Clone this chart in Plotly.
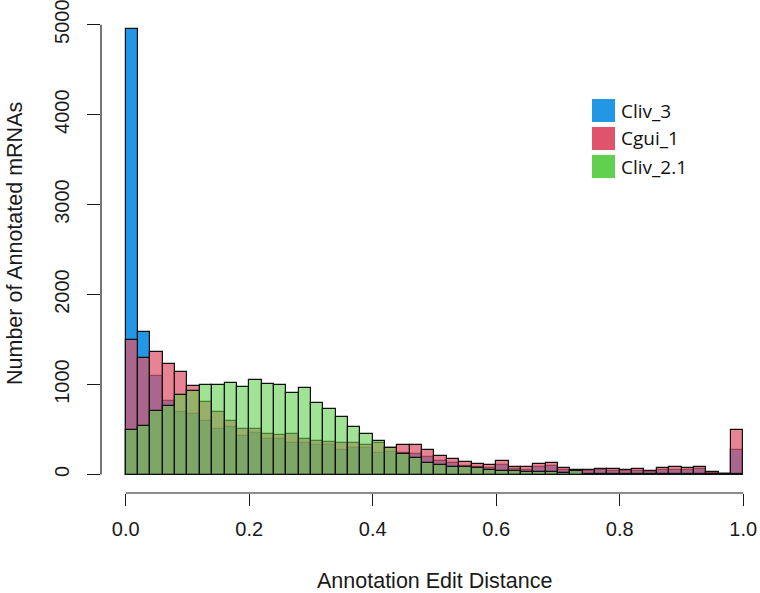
import numpy as np
import plotly.graph_objects as go

# ---- data: counts per bin (50 bins of width 0.02 on [0, 1]) ----
bin_width = 0.02
bin_left = [round(i * bin_width, 2) for i in range(50)]

cliv_3 = [4950, 1580, 1100, 815, 700, 670, 590, 510, 530, 425,
          465, 390, 390, 355, 355, 330, 325, 270, 295, 290,
          240, 250, 240, 230, 190, 150, 125, 100, 85, 75,
          110, 60, 55, 85, 95, 50, 40, 40, 45, 42,
          35, 42, 32, 48, 55, 48, 62, 20, 4, 270]

cgui_1 = [1490, 1300, 1360, 1230, 1140, 980, 805, 690, 590, 510,
          505, 450, 440, 445, 390, 375, 360, 345, 355, 325,
          345, 300, 333, 333, 270, 203, 170, 144, 114, 102,
          152, 81, 78, 118, 133, 67, 55, 55, 62, 58,
          48, 58, 44, 67, 78, 67, 89, 29, 5, 500]

cliv_2_1 = [490, 535, 710, 762, 885, 930, 1000, 990, 1022, 973,
            1055, 1007, 992, 911, 967, 800, 733, 640, 525, 448,
            370, 296, 233, 178, 129, 111, 81, 81, 67, 48,
            37, 37, 33, 33, 26, 15, 35, 10, 6, 5,
            4, 4, 3, 3, 3, 2, 2, 2, 1, 10]

series_names = ["Cliv_3", "Cgui_1", "Cliv_2.1"]
x_ticks = [0.0, 0.2, 0.4, 0.6, 0.8, 1.0]
x_ticklabels = ["0.0", "0.2", "0.4", "0.6", "0.8", "1.0"]
y_ticks = [0, 1000, 2000, 3000, 4000, 5000]
y_ticklabels = ["0", "1000", "2000", "3000", "4000", "5000"]

# ---- styling ----
W, H = 760, 593
ML, MR, MT, MB = 101, 0, 0, 100
fills = ["rgba(34,151,230,1)", "rgba(223,83,107,0.72)", "rgba(97,208,79,0.6)"]
legend_colors = ["#2297E6", "#DF536B", "#61D04F"]
FAMILY = "Liberation Sans, Arial, sans-serif"
axis_font = dict(family=FAMILY, size=20, color="#1a1a1a")
title_font = dict(family=FAMILY, size=21.5, color="#1a1a1a")

centers = [b + bin_width / 2 for b in bin_left]

fig = go.Figure()
for name, vals, col in zip(series_names, [cliv_3, cgui_1, cliv_2_1], fills):
    fig.add_trace(go.Bar(
        x=centers, y=vals, width=bin_width, name=name,
        marker=dict(color=col, line=dict(color="#111111", width=1.2)),
        showlegend=False,
    ))

fig.update_layout(
    width=W, height=H,
    margin=dict(l=ML, r=MR, t=MT, b=MB, pad=0),
    paper_bgcolor="white", plot_bgcolor="white",
    barmode="overlay", bargap=0,
    font=axis_font,
    showlegend=False,
)

fig.update_xaxes(
    range=[-0.04, 1.0271], tickvals=x_ticks, ticktext=x_ticklabels,
    ticks="outside", ticklen=12, tickwidth=1.2, tickcolor="#1a1a1a",
    showline=False, showgrid=False, zeroline=False,
    ticklabelstandoff=6, tickfont=axis_font, ticklabeloverflow="allow",
)
fig.update_yaxes(
    range=[-205.6, 5274.6], tickvals=y_ticks, ticktext=y_ticklabels,
    ticks="outside", ticklen=13, tickwidth=1.2, tickcolor="#1a1a1a",
    showline=False, showgrid=False, zeroline=False,
    tickangle=-90, ticklabelstandoff=10, tickfont=axis_font,
    ticklabeloverflow="allow",
)

# R-style axis lines spanning only from first to last tick
fig.add_shape(type="line", xref="x", yref="paper", x0=x_ticks[0], x1=x_ticks[-1],
              y0=0, y1=0, line=dict(color="#1a1a1a", width=1.2))
fig.add_shape(type="line", xref="paper", yref="y", x0=0, x1=0,
              y0=y_ticks[0], y1=y_ticks[-1], line=dict(color="#1a1a1a", width=1.2))

# axis titles
fig.add_annotation(text="Annotation Edit Distance", xref="x", yref="paper",
                   x=(x_ticks[0] + x_ticks[-1]) / 2, y=0, yanchor="middle",
                   yshift=-88, showarrow=False, font=title_font)
fig.add_annotation(text="Number of Annotated mRNAs", xref="paper", yref="paper",
                   x=0, y=(H - MB - 244) / (H - MB - MT), xanchor="center", yanchor="middle",
                   xshift=-(ML - 15), textangle=-90, showarrow=False, font=title_font)

# legend drawn manually (pixel layout -> paper coords)
pw, ph = W - ML - MR, H - MT - MB
def px_x(px):
    return (px - ML) / pw
def px_y(py):
    return (H - MB - py) / ph

row_tops = [99, 127, 155]
for name, col, top in zip(series_names, legend_colors, row_tops):
    fig.add_shape(type="rect", xref="paper", yref="paper",
                  x0=px_x(592), x1=px_x(615), y0=px_y(top + 23), y1=px_y(top),
                  fillcolor=col, line=dict(width=0))
    fig.add_annotation(text=name, xref="paper", yref="paper",
                       x=px_x(619), y=px_y(top + 11.5), xanchor="left", yanchor="middle",
                       showarrow=False,
                       font=dict(family="Open Sans, sans-serif", size=19, color="#111111"))

fig.write_html("out.html")
